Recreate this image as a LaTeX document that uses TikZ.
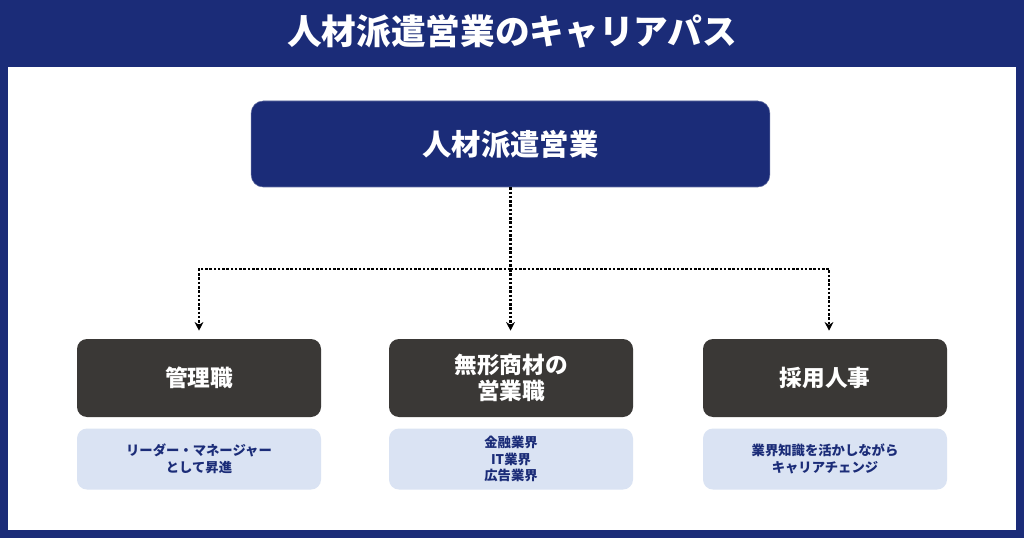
\documentclass[tikz,border=0pt]{standalone}
\usepackage{fontspec}
\setmainfont{Noto Sans CJK JP}
\usepackage{tikz}
\usetikzlibrary{arrows.meta, calc, positioning}
\definecolor{navy}{HTML}{1B2C78}
\definecolor{charcoal}{HTML}{3A3836}
\definecolor{paleblue}{HTML}{DAE3F3}
\tikzstyle{headbox} = [rectangle, rounded corners=9pt, fill=navy, draw=navy!70!white, minimum width=389pt, minimum height=64.5pt, text=white, font=\fontsize{22}{26}\selectfont\bfseries]
\tikzstyle{rolebox} = [rectangle, rounded corners=7.5pt, fill=charcoal, minimum width=183pt, minimum height=58.5pt, text=white, align=center, font=\fontsize{17}{20}\selectfont\bfseries]
\tikzstyle{notebox} = [rectangle, rounded corners=7.5pt, fill=paleblue, minimum width=183pt, minimum height=45.75pt, text=navy, align=center, font=\fontsize{10}{12.4}\selectfont\bfseries]
\tikzstyle{flow} = [line width=1.9pt, dash pattern=on 1.9pt off 1.3pt]
\tikzstyle{arrow} = [flow, -{Stealth[length=6.5pt,width=6.5pt]}, shorten >=6pt]
\begin{document}
\begin{tikzpicture}[x=0.75pt, y=-0.75pt, node distance = 8.25pt]
		\fill[navy] (0,0) rectangle (1024,538);
		\fill[white] (8,67) rectangle (1016,530);
		\node (Title) [text=white, font=\fontsize{26}{30}\selectfont\bfseries] at (512,32) {人材派遣営業のキャリアパス};
		\node (Sales) [headbox] at (510.5,144) {人材派遣営業};
		\node (Manager) [rolebox] at (199,378) {管理職};
		\node (Intangible) [rolebox] at (511,378) {無形商材の\\営業職};
		\node (Recruit) [rolebox] at (825,378) {採用人事};
		\node (ManagerNote) [notebox, below = of Manager] {リーダー・マネージャー\\として昇進};
		\node (IntangibleNote) [notebox, below = of Intangible] {金融業界\\IT業界\\広告業界};
		\node (RecruitNote) [notebox, below = of Recruit] {業界知識を活かしながら\\キャリアチェンジ};
		\coordinate (Hub) at (Sales.south |- 0,269);
		\draw [flow] (Sales.south) -- (Hub);
		\draw [arrow] (Hub) -| (Manager.north);
		\draw [arrow] (Hub) -- (Intangible.north -| Hub);
		\draw [arrow] (Hub) -| ([xshift=3pt]Recruit.north);
		\end{tikzpicture}
\end{document}
